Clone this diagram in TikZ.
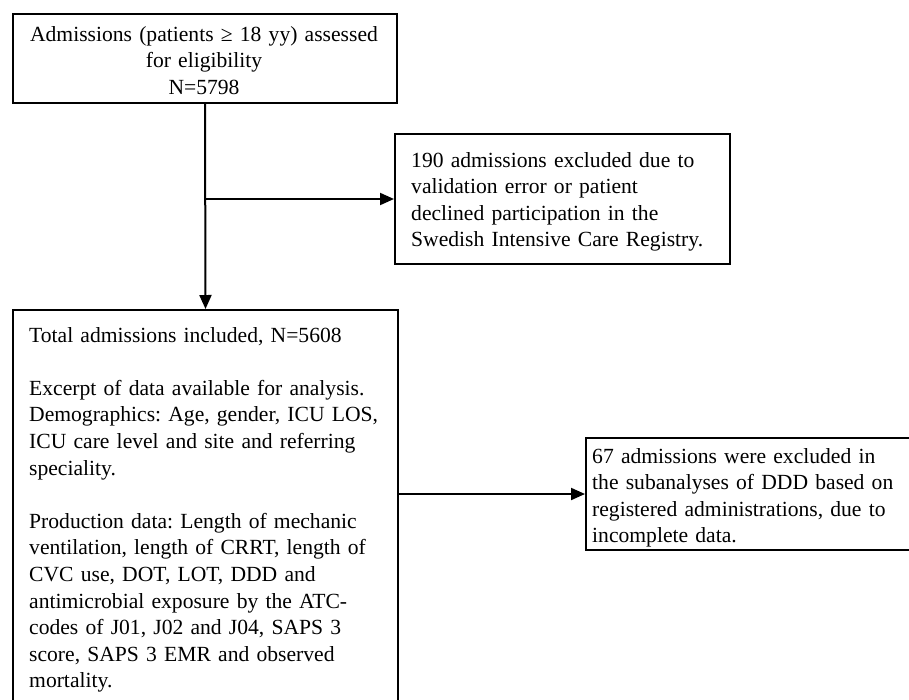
\documentclass[tikz,border=0pt]{standalone}
\usepackage{fontspec}
\setmainfont{Liberation Serif}
\usetikzlibrary{arrows.meta}
\frenchspacing
\begin{document}
\begin{tikzpicture}[x=1pt,y=-1pt,
  box/.style={draw=black,line width=2pt,inner sep=0pt,anchor=north west},
  txt/.style={inner sep=0pt,anchor=base west,align=left,text width=#1,
    font=\fontsize{21.6}{26.6}\selectfont},
  ctxt/.style={inner sep=0pt,anchor=base,align=center,text width=#1,
    font=\fontsize{21.6}{26.6}\selectfont},
  conn/.style={line width=2pt,-{Triangle[length=14pt,width=12pt]}}]
\useasboundingbox (0,0) rectangle (909,699);
% boxes
\node[box,minimum width=384pt,minimum height=89pt] (b1) at (12,13) {};
\node[box,minimum width=335pt,minimum height=130pt] (b2) at (394,133) {};
\node[box,minimum width=385pt,minimum height=420pt] (b3) at (12,309) {};
\node[box,minimum width=340pt,minimum height=112pt] (b4) at (585,437) {};
% texts
\node[ctxt=380pt] (t1) at (204,41) {Admissions (patients ≥ 18 yy) assessed\\for eligibility\\N=5798};
\node[txt=320pt] (t2) at (411,167) {190 admissions excluded due to\\validation error or patient\\declined participation in the\\Swedish Intensive Care Registry.};
\node[txt=370pt] (t3) at (29,342) {Total admissions included, N=5608\\[26.6pt]Excerpt of data available for analysis.\\Demographics: Age, gender, ICU LOS,\\ICU care level and site and referring\\speciality.\\[26.6pt]Production data: Length of mechanic\\ventilation, length of CRRT, length of\\CVC use, DOT, LOT, DDD and\\antimicrobial exposure by the ATC-\\codes of J01, J02 and J04, SAPS 3\\score, SAPS 3 EMR and observed\\mortality.};
\node[txt=320pt] (t4) at (592,463) {67 admissions were excluded in\\the subanalyses of DDD based on\\registered administrations, due to\\incomplete data.};
% connectors
\coordinate (j) at (b1.south |- b2.west);
\draw[conn] (b1.south) -- (b3.north);
\draw[conn] (j) -- (b2.west);
\draw[conn] (b3.east |- b4.west) -- (b4.west);
\end{tikzpicture}
\end{document}
